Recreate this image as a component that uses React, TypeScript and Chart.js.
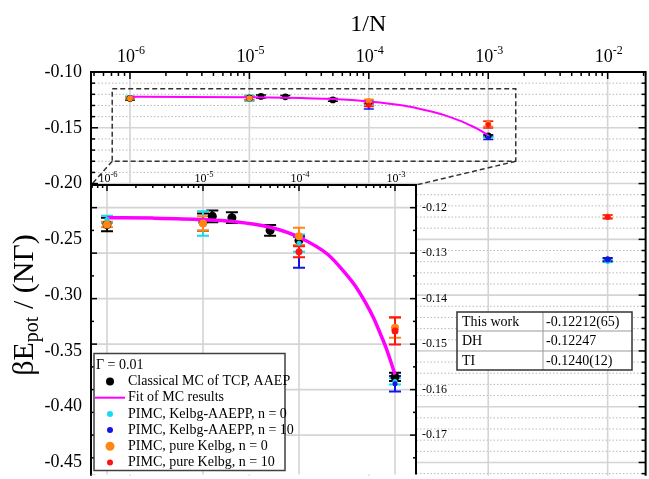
import React, { useEffect, useRef } from 'react';
import { Chart, registerables } from 'chart.js';

Chart.register(...registerables);

const SERIF = '"Liberation Serif", "Times New Roman", Times, serif';

// ---------------- data ----------------
const seriesLabels = [
  'Classical MC of TCP, AAEP',
  'Fit of MC results',
  'PIMC, Kelbg-AAEPP, n = 0',
  'PIMC, Kelbg-AAEPP, n = 10',
  'PIMC, pure Kelbg, n = 0',
  'PIMC, pure Kelbg, n = 10',
];
const seriesColors = ['#000000', '#ff00ff', '#14dcef', '#1414e6', '#ff8614', '#ff1414'];

const mcX = [1e-6, 1e-5, 1.25e-5, 2e-5, 5e-5, 1e-4, 1e-3];
const mcY = [-0.1237, -0.1232, -0.1219, -0.1222, -0.125, -0.1272, -0.1572];
const mcErr = [0.0015, 0.0019, 0.0013, 0.0012, 0.0012, 0.001, 0.0009];

const fitX = [1e-6, 3e-6, 1e-5, 2e-5, 5e-5, 1e-4, 2e-4, 3e-4, 4e-4, 5e-4, 6e-4, 7e-4, 8e-4, 9e-4, 1e-3];
const fitY = [-0.1222, -0.1223, -0.1226, -0.123, -0.1243, -0.1265, -0.1303, -0.1343, -0.1377, -0.1411, -0.1443, -0.1476, -0.1506, -0.1537, -0.1567];

const aaeppN0X = [1e-6, 1e-5, 1e-4, 1e-3];
const aaeppN0Y = [-0.1226, -0.1235, -0.1278, -0.1582];
const aaeppN0Err = [0.0008, 0.0027, 0.0019, 0.0007];

const aaeppN10X = [1e-4, 1e-3];
const aaeppN10Y = [-0.1298, -0.1587];
const aaeppN10Err = [0.0034, 0.0017];

const kelbgN0X = [1e-6, 1e-5, 1e-4, 1e-3];
const kelbgN0Y = [-0.1237, -0.1235, -0.1263, -0.1464];
const kelbgN0Err = [0.0006, 0.0016, 0.0019, 0.0022];

const kelbgN10X = [1e-4, 1e-3];
const kelbgN10Y = [-0.1297, -0.1471];
const kelbgN10Err = [0.0012, 0.003];

// right-hand panel at 1/N = 1e-2 : MC, AAEPP n=0, AAEPP n=10, Kelbg n=0, Kelbg n=10
const rightX = 1e-2;
const rightY = [-0.1315, -0.1318, -0.1315, -0.1221, -0.1222];
const rightErr = [0.0003, 0.0003, 0.0004, 0.0003, 0.0004];

const legendTitle = 'Γ = 0.01';
const tableRows = ['This work', 'DH', 'TI'];
const tableValues = ['-0.12212(65)', '-0.12247', '-0.1240(12)'];

const outerDecades = [-6, -5, -4, -3, -2];
const insetDecades = [-6, -5, -4, -3];
const outerYMajor = [-0.1, -0.15, -0.2, -0.25, -0.3, -0.35, -0.4, -0.45];
const insetYMajor = [-0.12, -0.13, -0.14, -0.15, -0.16, -0.17];

// ---------------- layout / calibration ----------------
const INSET_BOX = { left: 91, top: 185, right: 416 };
const INSET_CANVAS = { left: 80, top: 160, width: 400, height: 319 };
const OUT_XLOG = [-6.3264, -1.682];
const OUT_Y = [-0.46178, -0.1];
const IN_XLOG = [-6.1667, -2.78125];
const IN_Y = [-0.17866, -0.11502];
const IN_Y_ON_OUTER = [-0.178658, -0.090563];
const ZOOM = { x0: 7.1e-7, x1: 1.7e-3, y0: -0.1151, y1: -0.18 };
const TABLE = { left: 457, right: 632, col: 543, rows: [312, 331, 351, 370] };
const Y_TITLE = { x: 22, y: 305 };

const GRID_MAJOR = '#d4d4d4';
const GRID_MINOR = '#b8b8b8';

// ---------------- helpers ----------------
function minorLog(decades: number[], lo: number, hi: number) {
  const out: number[] = [];
  for (let e = decades[0] - 1; e <= decades[decades.length - 1] + 1; e++) {
    for (let m = 2; m <= 9; m++) {
      const v = m * Math.pow(10, e);
      if (v >= lo && v <= hi) out.push(v);
    }
  }
  return out;
}
function linVals(from: number, to: number, step: number) {
  const out: number[] = [];
  const n = Math.round((to - from) / step);
  for (let i = 0; i <= n; i++) out.push(+(from + i * step).toFixed(6));
  return out;
}
function isMult(v: number, s: number) {
  return Math.abs(v / s - Math.round(v / s)) < 1e-6;
}

function drawErrorBars(chart: any, capHalf: number, lw: number) {
  const { ctx, chartArea: ca } = chart;
  ctx.save();
  ctx.beginPath();
  ctx.rect(ca.left, ca.top, ca.right - ca.left, ca.bottom - ca.top);
  ctx.clip();
  const metas = chart.getSortedVisibleDatasetMetas();
  for (let k = metas.length - 1; k >= 0; k--) {
    const meta = metas[k];
    const ds = chart.data.datasets[meta.index];
    if (!ds.errs) continue;
    const xs = chart.scales[meta.xAxisID];
    const ys = chart.scales[meta.yAxisID];
    ctx.strokeStyle = ds.borderColor;
    ctx.lineWidth = lw;
    ds.data.forEach((p: any, i: number) => {
      const e = ds.errs[i];
      const px = xs.getPixelForValue(p.x);
      const yt = ys.getPixelForValue(p.y + e);
      const yb = ys.getPixelForValue(p.y - e);
      ctx.beginPath();
      ctx.moveTo(px, yt);
      ctx.lineTo(px, yb);
      ctx.moveTo(px - capHalf, yt);
      ctx.lineTo(px + capHalf, yt);
      ctx.moveTo(px - capHalf, yb);
      ctx.lineTo(px + capHalf, yb);
      ctx.stroke();
    });
  }
  ctx.restore();
}

function drawPow(ctx: CanvasRenderingContext2D, cx: number, base: number, e: number, big: number, small: number, raise: number) {
  const a = '10';
  const b = String(e);
  ctx.font = `${big}px ${SERIF}`;
  const wa = ctx.measureText(a).width;
  ctx.font = `${small}px ${SERIF}`;
  const wb = ctx.measureText(b).width;
  const x0 = cx - (wa + wb) / 2 + 1;
  ctx.fillStyle = '#000';
  ctx.textAlign = 'left';
  ctx.textBaseline = 'alphabetic';
  ctx.font = `${big}px ${SERIF}`;
  ctx.fillText(a, x0, base);
  ctx.font = `${small}px ${SERIF}`;
  ctx.fillText(b, x0 + wa, base - raise);
}

function hLine(ctx: CanvasRenderingContext2D, y: number, x0: number, x1: number) {
  ctx.beginPath();
  ctx.moveTo(x0, y);
  ctx.lineTo(x1, y);
  ctx.stroke();
}
function vLine(ctx: CanvasRenderingContext2D, x: number, y0: number, y1: number) {
  ctx.beginPath();
  ctx.moveTo(x, y0);
  ctx.lineTo(x, y1);
  ctx.stroke();
}

function drawYTitle(ctx: CanvasRenderingContext2D) {
  ctx.save();
  ctx.translate(Y_TITLE.x, Y_TITLE.y);
  ctx.rotate(-Math.PI / 2);
  const parts: any[] = [
    { t: 'βE', size: 30, dy: 0 },
    { t: 'pot', size: 20, dy: 5 },
    { t: ' / (NΓ)', size: 30, dy: 0 },
  ];
  let total = 0;
  for (const p of parts) {
    ctx.font = `${p.size}px ${SERIF}`;
    p.w = ctx.measureText(p.t).width;
    total += p.w;
  }
  let x = -total / 2;
  ctx.fillStyle = '#000';
  ctx.textAlign = 'left';
  ctx.textBaseline = 'alphabetic';
  for (const p of parts) {
    ctx.font = `${p.size}px ${SERIF}`;
    ctx.fillText(p.t, x, 11 + p.dy);
    x += p.w;
  }
  ctx.restore();
}

// ---------------- datasets ----------------
function pointDs(label: string, xs: number[], ys: number[], errs: number[], color: string, r: number, order: number, legendR: number, yAxisID = 'y') {
  return {
    label,
    data: xs.map((x, i) => ({ x, y: ys[i] })),
    errs,
    showLine: false,
    borderColor: color,
    backgroundColor: color,
    pointBackgroundColor: color,
    pointBorderColor: color,
    pointBorderWidth: 0,
    pointRadius: r,
    pointHoverRadius: r,
    order,
    legendR,
    xAxisID: 'x',
    yAxisID,
  };
}
function fitDs(width: number) {
  return {
    label: seriesLabels[1],
    data: fitX.map((x, i) => ({ x, y: fitY[i] })),
    borderColor: seriesColors[1],
    backgroundColor: seriesColors[1],
    borderWidth: width,
    pointRadius: 0,
    pointHoverRadius: 0,
    cubicInterpolationMode: 'monotone',
    fill: false,
    order: 5,
    xAxisID: 'x',
    yAxisID: 'y',
  };
}
function mainSets(scale: number) {
  return [
    pointDs(seriesLabels[0], mcX, mcY, mcErr, seriesColors[0], 4.5 * scale, 6, 4),
    fitDs(scale === 1 ? 3.5 : 2),
    pointDs(seriesLabels[2], aaeppN0X, aaeppN0Y, aaeppN0Err, seriesColors[2], 2.5 * scale, 4, 3),
    pointDs(seriesLabels[3], aaeppN10X, aaeppN10Y, aaeppN10Err, seriesColors[3], 2.5 * scale, 3, 3),
    pointDs(seriesLabels[4], kelbgN0X, kelbgN0Y, kelbgN0Err, seriesColors[4], 4 * scale, 2, 4.5),
    pointDs(seriesLabels[5], kelbgN10X, kelbgN10Y, kelbgN10Err, seriesColors[5], 3.5 * scale, 1, 3),
  ];
}
function rightSets() {
  const idx = [0, 2, 3, 4, 5];
  return idx.map((si, k) =>
    pointDs(seriesLabels[si], [rightX], [rightY[k]], [rightErr[k]], seriesColors[si], 3, 6 - k, 3, 'y2')
  );
}

// ---------------- plugins ----------------
const outerDeco = {
  id: 'outerDeco',
  beforeDatasetsDraw(chart: any) {
    const { ctx, chartArea: ca, scales } = chart;
    const xs = scales.x;
    const ys = scales.y;
    ctx.save();
    const all = linVals(-0.46, -0.1, 0.01);
    ctx.strokeStyle = GRID_MINOR;
    ctx.lineWidth = 1;
    ctx.setLineDash([1.5, 2]);
    all.filter((v) => !isMult(v, 0.05)).forEach((v) => hLine(ctx, ys.getPixelForValue(v), ca.left, ca.right));
    ctx.setLineDash([]);
    ctx.strokeStyle = GRID_MAJOR;
    ctx.lineWidth = 1.6;
    outerYMajor.forEach((v) => hLine(ctx, ys.getPixelForValue(v), ca.left, ca.right));
    outerDecades.forEach((e) => vLine(ctx, xs.getPixelForValue(Math.pow(10, e)), ca.top, ca.bottom));
    ctx.restore();
    drawErrorBars(chart, 5, 1.5);
  },
  afterDatasetsDraw(chart: any) {
    const { ctx, scales } = chart;
    const xs = scales.x;
    const ys = scales.y;
    const x0 = xs.getPixelForValue(ZOOM.x0);
    const x1 = xs.getPixelForValue(ZOOM.x1);
    const y0 = ys.getPixelForValue(ZOOM.y0);
    const y1 = ys.getPixelForValue(ZOOM.y1);
    ctx.save();
    ctx.strokeStyle = '#333';
    ctx.lineWidth = 1.5;
    ctx.setLineDash([5, 3]);
    ctx.strokeRect(x0, y0, x1 - x0, y1 - y0);
    ctx.beginPath();
    ctx.moveTo(x0, y1);
    ctx.lineTo(INSET_BOX.left, INSET_BOX.top);
    ctx.moveTo(x1, y1);
    ctx.lineTo(INSET_BOX.right, INSET_BOX.top);
    ctx.stroke();
    ctx.restore();
  },
  afterDraw(chart: any) {
    const { ctx, chartArea: ca, scales } = chart;
    const xs = scales.x;
    const ys = scales.y;
    ctx.save();
    ctx.strokeStyle = '#000';
    ctx.lineWidth = 2;
    ctx.beginPath();
    ctx.moveTo(ca.left, ca.bottom);
    ctx.lineTo(ca.left, ca.top);
    ctx.lineTo(ca.right, ca.top);
    ctx.lineTo(ca.right, ca.bottom);
    ctx.stroke();
    ctx.lineWidth = 1.5;
    // top ticks
    outerDecades.forEach((e) => vLine(ctx, xs.getPixelForValue(Math.pow(10, e)), ca.top, ca.top + 7));
    minorLog(outerDecades, xs.min, xs.max).forEach((v) => vLine(ctx, xs.getPixelForValue(v), ca.top, ca.top + 4));
    // left / right ticks
    const all = linVals(-0.46, -0.1, 0.01);
    all.forEach((v) => {
      const y = ys.getPixelForValue(v);
      const len = isMult(v, 0.05) ? 7 : 4;
      hLine(ctx, y, ca.left, ca.left + len);
      hLine(ctx, y, ca.right - len, ca.right);
    });
    // decade labels
    outerDecades.forEach((e) => drawPow(ctx, xs.getPixelForValue(Math.pow(10, e)), 62, e, 18, 12, 8));
    drawYTitle(ctx);
    // table
    const T = TABLE;
    ctx.fillStyle = '#fff';
    ctx.fillRect(T.left, T.rows[0], T.right - T.left, T.rows[3] - T.rows[0]);
    ctx.strokeStyle = '#999';
    ctx.lineWidth = 1;
    vLine(ctx, T.col, T.rows[0], T.rows[3]);
    hLine(ctx, T.rows[1], T.left, T.right);
    hLine(ctx, T.rows[2], T.left, T.right);
    ctx.strokeStyle = '#333';
    ctx.lineWidth = 1.5;
    ctx.strokeRect(T.left, T.rows[0], T.right - T.left, T.rows[3] - T.rows[0]);
    ctx.fillStyle = '#000';
    ctx.font = `14px ${SERIF}`;
    ctx.textAlign = 'left';
    ctx.textBaseline = 'middle';
    tableRows.forEach((r, i) => {
      const y = (T.rows[i] + T.rows[i + 1]) / 2 + 0.5;
      ctx.fillText(r, T.left + 5, y);
      ctx.fillText(tableValues[i], T.col + 3, y);
    });
    ctx.restore();
  },
};

const insetDeco = {
  id: 'insetDeco',
  beforeDraw(chart: any) {
    const { ctx, chartArea: ca } = chart;
    ctx.save();
    ctx.fillStyle = '#fff';
    ctx.fillRect(ca.left, ca.top, ca.right - ca.left, ca.bottom - ca.top);
    ctx.restore();
  },
  beforeDatasetsDraw(chart: any) {
    const { ctx, chartArea: ca, scales } = chart;
    const xs = scales.x;
    const ys = scales.y;
    ctx.save();
    ctx.strokeStyle = GRID_MAJOR;
    ctx.lineWidth = 1.6;
    insetYMajor.forEach((v) => hLine(ctx, ys.getPixelForValue(v), ca.left, ca.right));
    insetDecades.forEach((e) => vLine(ctx, xs.getPixelForValue(Math.pow(10, e)), ca.top, ca.bottom));
    ctx.restore();
    drawErrorBars(chart, 6, 2);
  },
  afterDraw(chart: any) {
    const { ctx, chartArea: ca, scales } = chart;
    const xs = scales.x;
    const ys = scales.y;
    ctx.save();
    ctx.strokeStyle = '#000';
    ctx.lineWidth = 2;
    ctx.beginPath();
    ctx.moveTo(ca.left, ca.bottom);
    ctx.lineTo(ca.left, ca.top);
    ctx.lineTo(ca.right, ca.top);
    ctx.lineTo(ca.right, ca.bottom);
    ctx.stroke();
    ctx.lineWidth = 1.5;
    insetDecades.forEach((e) => vLine(ctx, xs.getPixelForValue(Math.pow(10, e)), ca.top, ca.top + 6));
    minorLog(insetDecades, xs.min, xs.max).forEach((v) => vLine(ctx, xs.getPixelForValue(v), ca.top, ca.top + 3));
    linVals(-0.175, -0.115, 0.005).forEach((v) => {
      const y = ys.getPixelForValue(v);
      const len = isMult(v, 0.01) ? 6 : 3;
      hLine(ctx, y, ca.left, ca.left + len);
      hLine(ctx, y, ca.right - len, ca.right);
    });
    insetDecades.forEach((e) => drawPow(ctx, xs.getPixelForValue(Math.pow(10, e)), ca.top - 3, e, 12, 8.5, 5));
    // legend
    const left = ca.left + 3;
    const top = ca.bottom - 121;
    const w = 191;
    const h = 117;
    ctx.fillStyle = '#fff';
    ctx.fillRect(left, top, w, h);
    ctx.strokeStyle = '#404040';
    ctx.lineWidth = 1.5;
    ctx.strokeRect(left, top, w, h);
    ctx.font = `14px ${SERIF}`;
    ctx.textAlign = 'left';
    ctx.textBaseline = 'middle';
    ctx.fillStyle = '#000';
    ctx.fillText(legendTitle, left + 2, top + 12);
    chart.data.datasets.forEach((ds: any, i: number) => {
      const y = top + 28 + i * 16.2;
      if (ds.showLine === false) {
        ctx.fillStyle = ds.backgroundColor;
        ctx.beginPath();
        ctx.arc(left + 16, y, ds.legendR, 0, Math.PI * 2);
        ctx.fill();
      } else {
        ctx.strokeStyle = ds.borderColor;
        ctx.lineWidth = 2;
        hLine(ctx, y, left + 1, left + 31);
      }
      ctx.fillStyle = '#000';
      ctx.fillText(ds.label, left + 34, y);
    });
    ctx.restore();
  },
};

// ---------------- configs ----------------
function outerConfig(): any {
  return {
    type: 'line',
    data: { datasets: [...mainSets(0.75), ...rightSets()] },
    options: {
      responsive: false,
      animation: false,
      events: [],
      layout: { padding: { left: 0, top: 0, right: 3, bottom: 0 } },
      plugins: { legend: { display: false }, tooltip: { enabled: false } },
      scales: {
        x: {
          type: 'logarithmic',
          position: 'top',
          min: Math.pow(10, OUT_XLOG[0]),
          max: Math.pow(10, OUT_XLOG[1]),
          afterFit(s: any) {
            s.height = 72;
            s.paddingLeft = 0;
            s.paddingRight = 0;
          },
          grid: { display: false, drawTicks: false },
          border: { display: false },
          ticks: { display: false },
          title: {
            display: true,
            text: '1/N',
            color: '#000',
            font: { family: SERIF, size: 24 },
            padding: { top: 10, bottom: 0 },
          },
        },
        y: {
          type: 'linear',
          position: 'left',
          min: OUT_Y[0],
          max: OUT_Y[1],
          afterFit(s: any) {
            s.width = 91;
            s.paddingTop = 0;
            s.paddingBottom = 0;
          },
          grid: { display: false, drawTicks: false },
          border: { display: false },
          ticks: {
            stepSize: 0.05,
            includeBounds: false,
            autoSkip: false,
            padding: 9,
            color: '#000',
            font: { family: SERIF, size: 18 },
            callback: (v: any) => Number(v).toFixed(2),
          },
        },
        y2: { type: 'linear', display: false, min: IN_Y_ON_OUTER[0], max: IN_Y_ON_OUTER[1] },
      },
    },
    plugins: [outerDeco],
  };
}

function insetConfig(): any {
  return {
    type: 'line',
    data: { datasets: mainSets(1) },
    options: {
      responsive: false,
      animation: false,
      events: [],
      layout: { padding: { left: INSET_BOX.left - INSET_CANVAS.left, top: INSET_BOX.top - INSET_CANVAS.top, right: 0, bottom: 0 } },
      plugins: { legend: { display: false }, tooltip: { enabled: false } },
      scales: {
        x: { type: 'logarithmic', display: false, min: Math.pow(10, IN_XLOG[0]), max: Math.pow(10, IN_XLOG[1]) },
        y: {
          type: 'linear',
          position: 'right',
          min: IN_Y[0],
          max: IN_Y[1],
          afterFit(s: any) {
            s.width = INSET_CANVAS.left + INSET_CANVAS.width - INSET_BOX.right;
            s.paddingTop = 0;
            s.paddingBottom = 0;
          },
          grid: { display: false, drawTicks: false },
          border: { display: false },
          ticks: {
            stepSize: 0.01,
            includeBounds: false,
            autoSkip: false,
            padding: 6,
            color: '#000',
            font: { family: SERIF, size: 12 },
            callback: (v: any) => Number(v).toFixed(2),
          },
        },
      },
    },
    plugins: [insetDeco],
  };
}

export default function App() {
  const outerRef = useRef<HTMLCanvasElement>(null);
  const insetRef = useRef<HTMLCanvasElement>(null);
  useEffect(() => {
    const c1 = new Chart(outerRef.current as HTMLCanvasElement, outerConfig());
    const c2 = new Chart(insetRef.current as HTMLCanvasElement, insetConfig());
    return () => {
      c1.destroy();
      c2.destroy();
    };
  }, []);
  return (
    <div style={{ position: 'absolute', left: 0, top: 0, width: 649, height: 479, background: '#fff', overflow: 'hidden' }}>
      <canvas ref={outerRef} width={649} height={479} style={{ position: 'absolute', left: 0, top: 0 }} />
      <canvas
        ref={insetRef}
        width={INSET_CANVAS.width}
        height={INSET_CANVAS.height}
        style={{ position: 'absolute', left: INSET_CANVAS.left, top: INSET_CANVAS.top }}
      />
    </div>
  );
}
